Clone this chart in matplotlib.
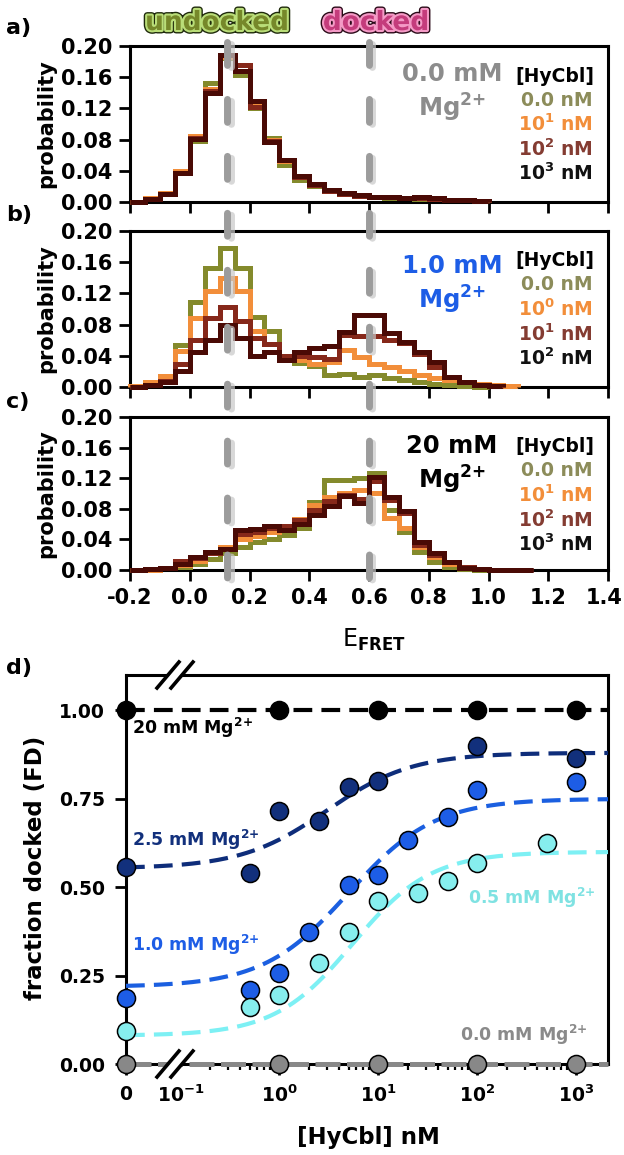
import numpy as np
import matplotlib
matplotlib.use("Agg")
import matplotlib.pyplot as plt
import matplotlib.patheffects as pe
from matplotlib.transforms import ScaledTranslation

plt.rcParams['font.family'] = ['DejaVu Sans']
plt.rcParams['font.weight'] = 'bold'
plt.rcParams['mathtext.fontset'] = 'dejavusans'
plt.rcParams['mathtext.default'] = 'bf'

# ---------------- histogram data (panels a-c), 0.05-wide E_FRET bins from -0.2 ----------------
bin_edges = np.round(np.arange(-0.2, 1.16, 0.05), 2)

a_0nM = [0.000, 0.004, 0.010, 0.038, 0.078, 0.152, 0.185, 0.163, 0.120, 0.082, 0.048, 0.028,
         0.021, 0.014, 0.010, 0.009, 0.006, 0.005, 0.005, 0.004, 0.004, 0.003, 0.002, 0.001]
a_10nM = [0.000, 0.005, 0.011, 0.040, 0.085, 0.145, 0.186, 0.176, 0.125, 0.080, 0.052, 0.032,
          0.022, 0.015, 0.011, 0.009, 0.007, 0.006, 0.005, 0.005, 0.004, 0.003, 0.002, 0.001]
a_100nM = [0.000, 0.004, 0.010, 0.037, 0.082, 0.142, 0.188, 0.176, 0.122, 0.078, 0.054, 0.032,
           0.022, 0.014, 0.010, 0.008, 0.007, 0.006, 0.005, 0.005, 0.004, 0.003, 0.002, 0.001]
a_1000nM = [0.000, 0.004, 0.010, 0.037, 0.081, 0.140, 0.189, 0.168, 0.130, 0.077, 0.054, 0.033,
            0.023, 0.015, 0.011, 0.009, 0.007, 0.006, 0.005, 0.006, 0.005, 0.003, 0.002, 0.001]

b_0nM = [0.000, 0.004, 0.010, 0.054, 0.109, 0.152, 0.178, 0.152, 0.090, 0.072, 0.035, 0.031,
         0.027, 0.016, 0.017, 0.013, 0.015, 0.012, 0.009, 0.006, 0.004, 0.002, 0.001, 0.000]
b_1nM = [0.001, 0.007, 0.014, 0.046, 0.088, 0.123, 0.140, 0.123, 0.072, 0.055, 0.036, 0.034,
         0.030, 0.032, 0.047, 0.038, 0.030, 0.026, 0.021, 0.016, 0.012, 0.009, 0.006, 0.004,
         0.002, 0.001]
b_10nM = [0.000, 0.003, 0.008, 0.030, 0.060, 0.088, 0.102, 0.085, 0.063, 0.055, 0.040, 0.040,
          0.038, 0.036, 0.067, 0.066, 0.065, 0.060, 0.056, 0.042, 0.026, 0.013, 0.006, 0.003,
          0.001]
b_100nM = [0.000, 0.002, 0.006, 0.020, 0.045, 0.060, 0.079, 0.063, 0.040, 0.045, 0.034, 0.045,
           0.050, 0.052, 0.071, 0.092, 0.092, 0.069, 0.058, 0.045, 0.032, 0.013, 0.006, 0.003,
           0.001]

c_0nM = [0.000, 0.000, 0.002, 0.004, 0.008, 0.015, 0.022, 0.030, 0.036, 0.041, 0.046, 0.055,
         0.089, 0.117, 0.117, 0.120, 0.127, 0.078, 0.050, 0.024, 0.010, 0.004, 0.001, 0.000,
         0.000]
c_10nM = [0.000, 0.000, 0.002, 0.006, 0.012, 0.022, 0.030, 0.040, 0.045, 0.050, 0.058, 0.067,
          0.085, 0.095, 0.100, 0.105, 0.100, 0.068, 0.055, 0.030, 0.017, 0.008, 0.003, 0.001,
          0.000, 0.000]
c_100nM = [0.000, 0.001, 0.003, 0.012, 0.016, 0.022, 0.028, 0.047, 0.050, 0.055, 0.058, 0.065,
           0.078, 0.090, 0.098, 0.093, 0.116, 0.092, 0.075, 0.033, 0.020, 0.010, 0.004, 0.001,
           0.000, 0.000, 0.000]
c_1000nM = [0.000, 0.001, 0.003, 0.008, 0.017, 0.024, 0.028, 0.052, 0.053, 0.057, 0.052, 0.060,
            0.072, 0.084, 0.097, 0.087, 0.122, 0.096, 0.077, 0.036, 0.022, 0.011, 0.003, 0.001,
            0.000, 0.000, 0.000]

state_lines = [0.125, 0.6]   # undocked / docked E_FRET

# ---------------- fraction docked (panel d) ----------------
conc_20 = [0, 1, 10, 100, 1000]
fd_20 = [1.0, 1.0, 1.0, 1.0, 1.0]
conc_25 = [0, 0.5, 1, 2.5, 5, 10, 100, 1000]
fd_25 = [0.556, 0.54, 0.715, 0.686, 0.783, 0.80, 0.90, 0.865]
conc_10 = [0, 0.5, 1, 2, 5, 10, 20, 50, 100, 1000]
fd_10 = [0.186, 0.21, 0.257, 0.373, 0.505, 0.534, 0.633, 0.698, 0.774, 0.797]
conc_05 = [0, 0.5, 1, 2.5, 5, 10, 25, 50, 100, 500]
fd_05 = [0.093, 0.161, 0.195, 0.285, 0.373, 0.46, 0.483, 0.517, 0.568, 0.624]
conc_00 = [0, 1, 10, 100, 1000]
fd_00 = [0.0, 0.0, 0.0, 0.0, 0.0]

# Hill fit parameters: baseline, plateau, K (nM), n
fit_25 = (0.553, 0.88, 3.0, 1.0)
fit_10 = (0.218, 0.75, 5.0, 1.0)
fit_05 = (0.080, 0.60, 5.5, 1.1)

OLIVE, ORANGE, BROWN, DARK = '#848a2c', '#f28e3a', '#86281a', '#4a0a05'
NAVY, BLUE, CYAN, GREY = '#12307c', '#1d5de6', '#86eeee', '#888888'
MG = 'Mg$^{2{+}}$'

W, H = 624, 1155
fig = plt.figure(figsize=(W / 100, H / 100), dpi=100)


def px_box(x0, y0, x1, y1):
    return [x0 / W, 1 - y1 / H, (x1 - x0) / W, (y1 - y0) / H]


def style_axes(ax, lw=2.2):
    for s in ax.spines.values():
        s.set_linewidth(lw)


# ---------------- panels a-c ----------------
panels = [
    ('a)', px_box(130, 46, 608, 202), [a_0nM, a_10nM, a_100nM, a_1000nM],
     ('0.0 mM', '#8c8c8c'), ['0.0 nM', '10$^{1}$ nM', '10$^{2}$ nM', '10$^{3}$ nM'], 28),
    ('b)', px_box(130, 231, 608, 387), [b_0nM, b_1nM, b_10nM, b_100nM],
     ('1.0 mM', BLUE), ['0.0 nM', '10$^{0}$ nM', '10$^{1}$ nM', '10$^{2}$ nM'], 35),
    ('c)', px_box(130, 417, 608, 570), [c_0nM, c_10nM, c_100nM, c_1000nM],
     ('20 mM', 'black'), ['0.0 nM', '10$^{1}$ nM', '10$^{2}$ nM', '10$^{3}$ nM'], 29),
]
legend_colors = ['#8c8c5a', ORANGE, '#843c32', '#111111']
line_colors = [OLIVE, ORANGE, BROWN, DARK]
label_y = {'a)': 28, 'b)': 215, 'c)': 402}

hist_axes = []
for tag, box, series, (mg, mg_col), conc_labels, mg_off in panels:
    ax = fig.add_axes(box)
    hist_axes.append(ax)
    for vals, col in zip(series, line_colors):
        ax.stairs(vals, bin_edges[:len(vals) + 1], color=col, lw=3.6, clip_on=False,
                  zorder=3)
    ax.set_xlim(-0.2, 1.4)
    ax.set_ylim(0, 0.2)
    ax.set_xticks(np.round(np.arange(-0.2, 1.41, 0.2), 1))
    ax.set_yticks([0.0, 0.04, 0.08, 0.12, 0.16, 0.20])
    ax.set_yticklabels(['0.00', '0.04', '0.08', '0.12', '0.16', '0.20'])
    ax.tick_params(direction='out', length=8, width=2, labelsize=15, pad=5)
    ax.set_ylabel('probability', fontsize=15, fontweight='bold')
    ax.yaxis.set_label_coords(-0.176, 0.5)
    ax.yaxis.label.set_va('center')
    style_axes(ax)
    if tag != 'c)':
        ax.set_xticklabels([])
    else:
        ax.set_xticklabels(['-0.2', '0.0', '0.2', '0.4', '0.6', '0.8', '1.0', '1.2', '1.4'])
        ax.set_xlabel(r'E$_{\mathbf{FRET}}$', fontsize=17)
        ax.xaxis.set_label_coords(0.51, -0.457)
        ax.xaxis.label.set_va('center')
    hgt = box[3] * H
    ax.text(0.674, 1 - mg_off / hgt, mg, transform=ax.transAxes, ha='center', va='center',
            fontsize=17.5, color=mg_col)
    ax.text(0.674, 1 - (mg_off + 34) / hgt, MG, transform=ax.transAxes,
            ha='center', va='center', fontsize=17.5, color=mg_col)
    ax.text(0.971, 1 - 30 / hgt, '[HyCbl]', transform=ax.transAxes, ha='right',
            va='center', fontsize=13.5, color='black')
    for k, (lab, col) in enumerate(zip(conc_labels, legend_colors)):
        ax.text(0.968, 1 - (54 + 24.5 * k) / hgt, lab, transform=ax.transAxes, ha='right',
                va='center', fontsize=13.5, color=col)
    fig.text(6 / W, 1 - label_y[tag] / H, tag, fontsize=16, va='center', ha='left')

# grey dashed state markers running through panels a-c
ov = fig.add_axes(px_box(130, 41.5, 608, 578), zorder=5)
ov.set_xlim(-0.2, 1.4)
ov.set_ylim(0, 1)
ov.axis('off')
for e in state_lines:
    ov.plot([e, e], [1, 0], color='#9c9c9c', lw=5, linestyle=(0, (3.3, 4.9)),
            dash_capstyle='round', clip_on=False,
            path_effects=[pe.SimpleLineShadow(offset=(2.5, -2), shadow_color='#c8c8c8',
                                              alpha=0.7),
                          pe.Normal()])

# undocked / docked headers
outline_g = [pe.Stroke(linewidth=5, foreground='#1f2a0c'),
             pe.Stroke(linewidth=3, foreground='#b9dd78'), pe.Normal()]
outline_p = [pe.Stroke(linewidth=5, foreground='#2a0a18'),
             pe.Stroke(linewidth=3, foreground='#f49ac6'), pe.Normal()]
fig.text(217 / W, 1 - 23 / H, 'undocked', ha='center', va='center', fontsize=19,
         color='#76882a', path_effects=outline_g)
fig.text(376 / W, 1 - 23 / H, 'docked', ha='center', va='center', fontsize=19,
         color='#c43c7c', path_effects=outline_p)

# ---------------- panel d ----------------
ZERO_POS = -1.55   # axis position used for [HyCbl] = 0 (left of the axis break)
X_MAX = 3.32


def xpos(conc):
    c = np.asarray(conc, dtype=float)
    return np.where(c > 0, np.log10(np.where(c > 0, c, 1.0)), ZERO_POS)


def hill(u, base, top, K, n):
    c = 10.0 ** u
    return base + (top - base) * c ** n / (K ** n + c ** n)


axd = fig.add_axes(px_box(126, 675, 608, 1064))
axd.set_xlim(ZERO_POS, X_MAX)
axd.set_ylim(0, 1.1)
style_axes(axd)

u = np.linspace(ZERO_POS, X_MAX, 300)
fit_style = dict(lw=3, linestyle=(0, (4.5, 2.2)), zorder=3, clip_on=False)
axd.plot([ZERO_POS, X_MAX], [1.0, 1.0], color='black', **fit_style)
axd.plot(u, hill(u, *fit_25), color='#0e2d7a', **fit_style)
axd.plot(u, hill(u, *fit_10), color='#1b5fe0', **fit_style)
axd.plot(u, hill(u, *fit_05), color='#7df0f4', **fit_style)
axd.plot([ZERO_POS, X_MAX], [0.0, 0.0], color=GREY, lw=3.6, linestyle=(0, (5, 1.3)),
         zorder=3, clip_on=False)

mk = dict(marker='o', ms=13, mec='black', mew=1.1, ls='none', zorder=5, clip_on=False)
axd.plot(xpos(conc_20), fd_20, mfc='black', **mk)
axd.plot(xpos(conc_25), fd_25, mfc=NAVY, **mk)
axd.plot(xpos(conc_10), fd_10, mfc=BLUE, **mk)
axd.plot(xpos(conc_05), fd_05, mfc=CYAN, **mk)
axd.plot(xpos(conc_00), fd_00, mfc=GREY, **mk)

axd.set_yticks([0, 0.25, 0.5, 0.75, 1.0])
axd.set_yticklabels(['0.00', '0.25', '0.50', '0.75', '1.00'])
major_x = [ZERO_POS, -1, 0, 1, 2, 3]
axd.set_xticks(major_x)
axd.set_xticklabels(['0', '10$^{-1}$', '10$^{0}$', '10$^{1}$', '10$^{2}$', '10$^{3}$'])
axd.set_xticks(np.log10([k * 10.0 ** d for d in (-1, 0, 1, 2) for k in range(2, 10)]),
               minor=True)
axd.tick_params(axis='both', which='major', direction='out', length=8, width=2,
                labelsize=13.5, pad=7)
axd.tick_params(axis='x', which='minor', direction='out', length=4, width=1.6)
axd.xaxis.get_major_ticks()[1].tick1line.set_visible(False)
axd.set_ylabel('fraction docked (FD)', fontsize=16.5, fontweight='bold')
axd.yaxis.set_label_coords(-0.187, 0.504)
axd.yaxis.label.set_va('center')
axd.set_xlabel('[HyCbl] nM', fontsize=16.5, fontweight='bold')
axd.xaxis.set_label_coords(0.502, -0.19)
axd.xaxis.label.set_va('center')

ytr = axd.get_yaxis_transform()
axd.text(0.012, 0.949, '20 mM ' + MG, transform=ytr,
         fontsize=12.5, color='black', va='center', ha='left')
axd.text(0.012, 0.633, '2.5 mM ' + MG, transform=ytr,
         fontsize=12.5, color=NAVY, va='center', ha='left')
axd.text(0.012, 0.336, '1.0 mM ' + MG, transform=ytr,
         fontsize=12.5, color=BLUE, va='center', ha='left')
axd.text(0.975, 0.469, '0.5 mM ' + MG, transform=ytr,
         fontsize=12.5, color='#7fe2e2', va='center', ha='right')
axd.text(0.958, 0.082, '0.0 mM ' + MG, transform=ytr,
         fontsize=12.5, color='#8a8a8a', va='center', ha='right')


# axis-break marks on the top and bottom spines
def draw_break(ax, xc, yfrac):
    aw = ax.bbox.width
    ah = ax.bbox.height
    dx, dy, sep = 11 / aw, 13 / ah, 7 / aw
    ax.plot([xc - dx * 0.6, xc + dx * 0.6], [yfrac - dy * 0.6, yfrac + dy * 0.6],
            transform=ax.transAxes, color='white', lw=6, clip_on=False, zorder=6)
    for s in (-sep, sep):
        ax.plot([xc + s - dx, xc + s + dx], [yfrac - dy, yfrac + dy],
                transform=ax.transAxes, color='black', lw=2.6, clip_on=False, zorder=7)


brk = (175 - 126) / (608 - 126)
draw_break(axd, brk, 1.0)
draw_break(axd, brk, 0.0)
fig.text(6 / W, 1 - 668 / H, 'd)', fontsize=16, va='center', ha='left')

# keep the last E_FRET tick label inside the canvas
last = hist_axes[-1].get_xticklabels()[-1]
last.set_transform(last.get_transform() + ScaledTranslation(-0.035, 0, fig.dpi_scale_trans))

fig.savefig('out.png', dpi=100)
